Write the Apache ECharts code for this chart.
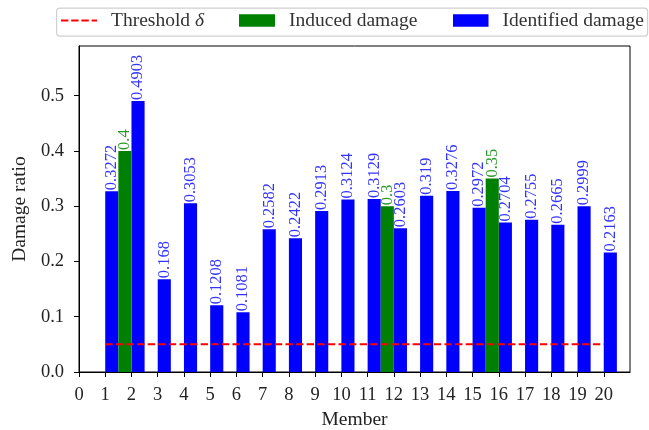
<!DOCTYPE html>
<html><head><meta charset="utf-8">
<script src="https://cdn.jsdelivr.net/npm/echarts@6/dist/echarts.min.js"></script>
<style>html,body{margin:0;padding:0;background:#fff}#c{width:649px;height:430px}</style>
</head><body><div id="c"></div>
<script>
const members = [1,2,3,4,5,6,7,8,9,10,11,12,13,14,15,16,17,18,19,20];
const identified = [0.3272,0.4903,0.168,0.3053,0.1208,0.1081,0.2582,0.2422,0.2913,0.3124,0.3129,0.2603,0.319,0.3276,0.2972,0.2704,0.2755,0.2665,0.2999,0.2163];
const inducedMembers = [2,12,16];
const induced = [0.4,0.3,0.35];
const thresholdRange = [1,20];
const threshold = 0.05;
const xTicks = [0,1,2,3,4,5,6,7,8,9,10,11,12,13,14,15,16,17,18,19,20];
const yTicks = [0,0.1,0.2,0.3,0.4,0.5];

const FONT = 'Liberation Serif';
const chart = echarts.init(document.getElementById('c'), null, {renderer:'canvas'});

function barRenderer(offset, color, labelColor){
  return function(params, api){
    const x = api.value(0), y = api.value(1);
    const p0 = api.coord([x + offset, 0]);
    const p1 = api.coord([x + offset + 0.5, y]);
    const cx = (p0[0] + p1[0]) / 2;
    return {type:'group', children:[
      {type:'rect', shape:{x:p0[0], y:p1[1], width:p1[0]-p0[0], height:p0[1]-p1[1]}, style:{fill:color}},
      {type:'text', x:cx, y:p1[1]-1, rotation:Math.PI/2, z2:10,
        style:{text:String(y), fill:labelColor, font:'16.5px "'+FONT+'"', align:'left', verticalAlign:'middle'}}
    ]};
  };
}

const legendText = {fontFamily:FONT, fontSize:19.5, lineHeight:20, color:'#333', padding:[0,0,0,9],
    rich:{i:{fontFamily:FONT, fontSize:19.5, lineHeight:20, fontStyle:'italic', color:'#333'}}};
const dashIcon = 'path://M0,0h7.4v2h-7.4z M10.2,0h7.4v2h-7.4z M20.4,0h7.4v2h-7.4z M30.6,0h5.4v2h-5.4z';

chart.setOption({
  animation:false,
  graphic:[{type:'rect', left:56, top:7.5, shape:{width:591, height:28, r:3},
    style:{fill:'#fff', stroke:'#d0d0d0', lineWidth:1.2}, z:-1}],
  legend:[
    {left:61, top:10.5, padding:0, itemWidth:36, itemHeight:2, itemGap:0, textStyle:legendText,
      data:[{name:'Threshold δ', icon:dashIcon, itemStyle:{color:'#ff0000'}}],
      formatter: function(){ return 'Threshold {i|δ}'; }},
    {left:239, top:10.5, padding:0, itemWidth:36, itemHeight:12.7, itemGap:0, textStyle:legendText,
      data:[{name:'Induced damage', icon:'rect'}]},
    {left:453, top:10.5, padding:0, itemWidth:35.5, itemHeight:12.7, itemGap:0, textStyle:legendText,
      data:[{name:'Identified damage', icon:'rect'}]}
  ],
  grid:{left:79, right:19, top:46, bottom:58, show:true, borderColor:'#000', borderWidth:1,
    containLabel:false, outerBoundsMode:'none'},
  xAxis:{type:'value', min:0, max:21, interval:1,
    name:'Member', nameLocation:'middle', nameGap:37,
    nameTextStyle:{fontFamily:FONT, fontSize:19.5, color:'#222'},
    axisLine:{show:true, lineStyle:{color:'#000'}},
    axisTick:{show:true, length:5, lineStyle:{color:'#000'}, customValues:xTicks},
    axisLabel:{fontFamily:FONT, fontSize:18.5, color:'#222', margin:14, customValues:xTicks},
    splitLine:{show:false}},
  yAxis:{type:'value', min:0, max:0.59, interval:0.1,
    name:'Damage ratio', nameLocation:'middle', nameGap:44,
    nameTextStyle:{fontFamily:FONT, fontSize:19.5, color:'#222'},
    axisLine:{show:true, lineStyle:{color:'#000'}},
    axisTick:{show:true, length:5, lineStyle:{color:'#000'}, customValues:yTicks},
    axisLabel:{fontFamily:FONT, fontSize:18.5, color:'#222', margin:15, customValues:yTicks,
      formatter:v=>v.toFixed(1)},
    splitLine:{show:false}},
  series:[
    {name:'Threshold δ', type:'line', symbol:'none', z:5,
      data:thresholdRange.map(m=>[m, threshold]),
      lineStyle:{color:'#ff0000', type:[7.4,3.2], width:2}, itemStyle:{color:'#ff0000'}},
    {name:'Identified damage', type:'custom', renderItem:barRenderer(0,'#0000ff','#3333ff'),
      itemStyle:{color:'#0000ff'}, encode:{x:0,y:1},
      data:members.map((m,i)=>[m, identified[i]]), z:2},
    {name:'Induced damage', type:'custom', renderItem:barRenderer(-0.5,'#008000','#2a9a2a'),
      itemStyle:{color:'#008000'}, encode:{x:0,y:1},
      data:inducedMembers.map((m,i)=>[m, induced[i]]), z:3}
  ]
});
</script></body></html>
